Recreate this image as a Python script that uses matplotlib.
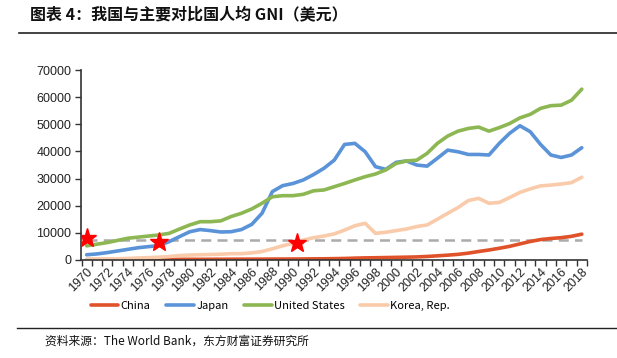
import matplotlib
matplotlib.use("Agg")
import matplotlib.pyplot as plt
import numpy as np

years = list(range(1970, 2019))
china = [120, 120, 130, 140, 160, 180, 170, 180, 200, 220, 220, 220, 230, 250, 260, 280, 280, 290, 310, 320,
         330, 350, 390, 410, 470, 530, 650, 750, 800, 870, 940, 1010, 1100, 1270, 1510, 1750, 2050, 2500, 3100,
         3650, 4300, 5000, 5900, 6800, 7500, 7900, 8200, 8700, 9500]
japan = [1900, 2200, 2700, 3300, 3900, 4500, 4900, 5300, 6750, 8600, 10400, 11200, 10800, 10300, 10400, 11200,
         13100, 17200, 25200, 27400, 28200, 29500, 31500, 33800, 36800, 42600, 43000, 39900, 34400, 33400, 36000,
         36500, 35000, 34600, 37500, 40500, 39900, 38900, 38900, 38700, 43000, 46700, 49500, 47300, 42600, 38700,
         37800, 38700, 41400]
usa = [5200, 5800, 6400, 7200, 8000, 8400, 8800, 9200, 9800, 11400, 12900, 14100, 14100, 14400, 16000, 17200,
       18800, 20900, 23300, 23700, 23700, 24200, 25500, 25800, 27000, 28200, 29500, 30700, 31700, 33200, 35600,
       36500, 36800, 39300, 43000, 45700, 47500, 48500, 49000, 47500, 48800, 50300, 52400, 53700, 55900, 56900,
       57100, 58900, 63000]
korea = [250, 280, 300, 400, 550, 700, 850, 1000, 1250, 1600, 1800, 1900, 2000, 2100, 2300, 2300, 2600, 3100,
         4100, 5200, 6100, 7300, 8200, 8800, 9600, 11000, 12600, 13500, 9800, 10200, 10800, 11400, 12300, 12900,
         15000, 17200, 19300, 21900, 22700, 20900, 21200, 23000, 24900, 26200, 27300, 27600, 28000, 28500, 30500]
threshold = 7400
star_years = [1970, 1977, 1990.4]
star_values = [8000, 6500, 6200]

series_names = ["China", "Japan", "United States", "Korea, Rep."]
colors = ["#E0522A", "#5B93D8", "#8DB752", "#F9CBAA"]

title = "图表 4：我国与主要对比国人均 GNI（美元）"
source = "资料来源：The World Bank，东方财富证券研究所"

plt.rcParams['font.family'] = ['Liberation Sans', 'Noto Sans CJK SC', 'DejaVu Sans']

fig = plt.figure(figsize=(6.17, 3.58), dpi=100)
ax = fig.add_axes([0.1313, 0.274, 0.820, 0.530])

for vals, name, c in zip([china, japan, usa, korea], series_names, colors):
    ax.plot(years, vals, color=c, lw=2.6, label=name, solid_capstyle='round', solid_joinstyle='round')

ax.plot([years[0], years[-1]], [threshold, threshold], color="#ABABAB", lw=1.8, dashes=(4, 2.5), zorder=1.5)
ax.plot(star_years, star_values, linestyle='none', marker='*', color='#FF0000', markersize=14, zorder=5)

ax.set_xlim(1969.45, 2018.45)
ax.set_ylim(0, 70000)
ax.set_yticks(np.arange(0, 70001, 10000))
ax.set_yticklabels([str(v) for v in range(0, 70001, 10000)], fontsize=9, color="#222222")
ax.set_xticks(years[::2])
ax.set_xticklabels([str(y) for y in years[::2]], rotation=45, ha='right', va='top',
                   rotation_mode='anchor', fontsize=9, color="#222222")
ax.tick_params(axis='x', which='major', length=0, pad=4)
ax.set_xticks(np.arange(1969.5, 2019, 1.0), minor=True)
ax.tick_params(axis='x', which='minor', length=4, color="#333333", width=1)
ax.tick_params(axis='y', length=4, color="#333333", width=1, pad=3)
for s in ['top', 'right']:
    ax.spines[s].set_visible(False)
for s in ['left', 'bottom']:
    ax.spines[s].set_color("#333333")
    ax.spines[s].set_linewidth(1.2)

leg = fig.legend(loc='center', bbox_to_anchor=(0.438, 0.145), ncol=4, frameon=False,
                 prop={'family': ['Noto Sans CJK SC', 'DejaVu Sans'], 'size': 8},
                 handlelength=2.5, handletextpad=0.2, columnspacing=1.4)

fig.text(0.049, 0.96, title, fontsize=11.5, fontweight='bold', color='#111111',
         family=['Noto Sans CJK SC', 'DejaVu Sans'], va='center', ha='left')
fig.add_artist(plt.Line2D([0.03, 1.0], [0.907, 0.907], color='#222222', lw=1.2, transform=fig.transFigure))
fig.add_artist(plt.Line2D([0.028, 1.0], [0.084, 0.084], color='#222222', lw=1.0, transform=fig.transFigure))
fig.text(0.073, 0.047, source, fontsize=8.5, color='#111111',
         family=['Noto Sans CJK SC', 'DejaVu Sans'], va='center', ha='left')

fig.savefig("out.png", dpi=100)
